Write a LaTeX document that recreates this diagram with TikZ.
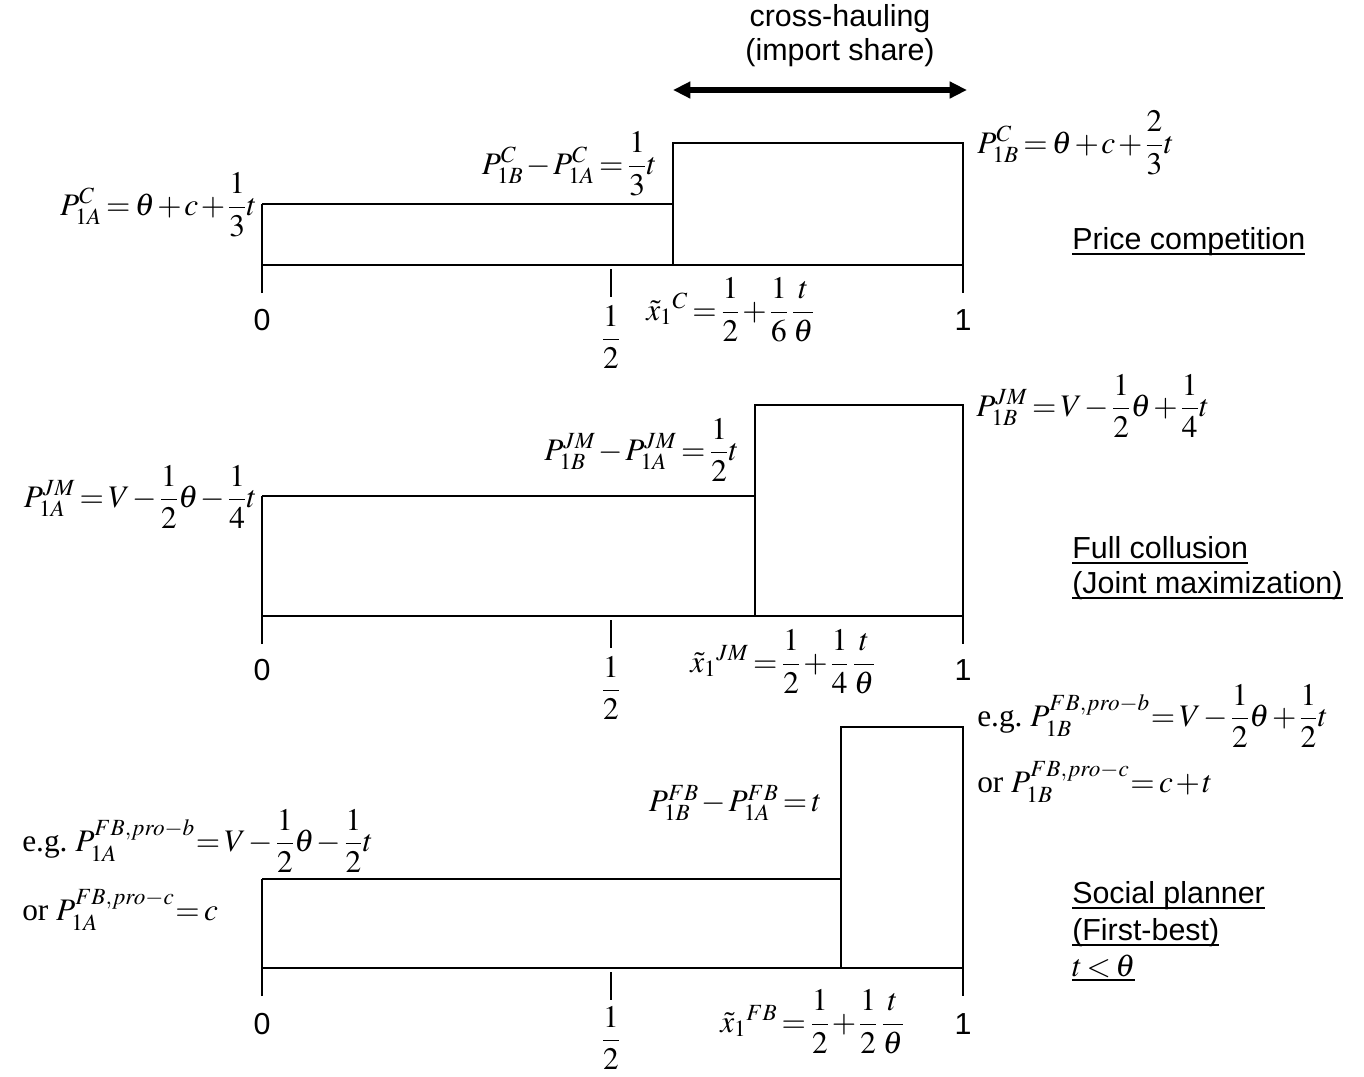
\documentclass[tikz,border=0pt]{standalone}
\usepackage{amsmath}
\usepackage{mathptmx}
\usepackage[no-math]{fontspec}
\setmainfont{Liberation Serif}
\setsansfont{Liberation Sans}
\usetikzlibrary{arrows.meta}
\newcommand\myul[1]{\setbox0\hbox{#1}\rlap{\rule[-0.17em]{\wd0}{0.065em}}\box0}
\medmuskip=1.5mu plus 1mu minus 1mu\relax
\thickmuskip=2.5mu plus 1mu\relax
\tikzset{
  ln/.style={line width=1.9pt},
  mt/.style={inner sep=0pt, font=\fontsize{23.5}{28}\selectfont},
  sf/.style={inner sep=0pt, font=\fontsize{22.8}{27}\selectfont\sffamily},
  bigarrow/.style={line width=4pt, {Triangle[length=13pt,width=12pt]}-{Triangle[length=13pt,width=12pt]}},
}
\begin{document}
\begin{tikzpicture}[x=0.75pt,y=-0.75pt]
\useasboundingbox (0,0) rectangle (1364,1076);

% ---------- header arrow ----------
\node[sf] (ch1) at (840,19) {cross-hauling};
\node[sf] (ch2) at (840,53) {(import share)};
\coordinate (al) at (673,90);
\coordinate (ar) at (967,90);
\draw[bigarrow] (al) -- (ar);

% ---------- panel 1: price competition ----------
\draw[ln] (262,204) -- (673,204);
\draw[ln] (262,293) -- (262,204);
\draw[ln] (673,265) -- (673,143) -- (963,143) -- (963,293);
\draw[ln] (262,265) -- (963,265);
\draw[ln] (611,269) -- (611,297);

\node[mt,anchor=east] (pa1) at (257,205) {$P^C_{1A}=\theta+c+\dfrac{1}{3}t$};
\node[mt,anchor=east] (pd1) at (657,164) {$P^C_{1B}-P^C_{1A}=\dfrac{1}{3}t$};
\node[mt,anchor=west] (pb1) at (977,143) {$P^C_{1B}=\theta+c+\dfrac{2}{3}t$};
\node[mt,anchor=west] (xt1) at (646,310) {$\tilde{x}_1{}^{C}=\dfrac12+\dfrac16\,\dfrac{t}{\theta}$};
\node[sf] (z1) at (262,320) {0};
\node[sf] (o1) at (963,320) {1};
\node[mt] (h1) at (611,337) {$\dfrac12$};
\node[sf,anchor=west] (lab1) at (1072,242) {\myul{Price competition}};

% ---------- panel 2: full collusion ----------
\draw[ln] (262,496) -- (755,496);
\draw[ln] (262,644) -- (262,496);
\draw[ln] (755,616) -- (755,405) -- (963,405) -- (963,644);
\draw[ln] (262,616) -- (963,616);
\draw[ln] (611,620) -- (611,648);

\node[mt,anchor=east] (pa2) at (257,497) {$P^{JM}_{1A}=V-\dfrac12\theta-\dfrac14 t$};
\node[mt,anchor=east] (pd2) at (739,450) {$P^{JM}_{1B}-P^{JM}_{1A}=\dfrac12 t$};
\node[mt,anchor=west] (pb2) at (976,406) {$P^{JM}_{1B}=V-\dfrac12\theta+\dfrac14 t$};
\node[mt,anchor=west] (xt2) at (690,662) {$\tilde{x}_1{}^{JM}=\dfrac12+\dfrac14\,\dfrac{t}{\theta}$};
\node[sf] (z2) at (262,670) {0};
\node[sf] (o2) at (963,670) {1};
\node[mt] (h2) at (611,688) {$\dfrac12$};
\node[sf,anchor=west] (lab2a) at (1072,550) {\myul{Full collusion}};
\node[sf,anchor=west] (lab2b) at (1072,586) {\myul{(Joint maximization)}};

% ---------- panel 3: social planner ----------
\draw[ln] (262,879) -- (841,879);
\draw[ln] (262,996) -- (262,879);
\draw[ln] (841,968) -- (841,727) -- (963,727) -- (963,996);
\draw[ln] (262,968) -- (963,968);
\draw[ln] (611,972) -- (611,1000);

\node[mt,anchor=west] (pa3) at (22,841) {e.g.\ $P^{FB,pro-b}_{1A}\!=V-\dfrac12\theta-\dfrac12 t$};
\node[mt,anchor=west] (pc3) at (22,910) {or $P^{FB,pro-c}_{1A}\!=c$};
\node[mt,anchor=east] (pd3) at (822,803) {$P^{FB}_{1B}-P^{FB}_{1A}=t$};
\node[mt,anchor=west] (pb3) at (977,716) {e.g.\ $P^{FB,pro-b}_{1B}\!=V-\dfrac12\theta+\dfrac12 t$};
\node[mt,anchor=west] (pe3) at (977,782) {or $P^{FB,pro-c}_{1B}\!=c+t$};
\node[mt,anchor=west] (xt3) at (720,1022) {$\tilde{x}_1{}^{FB}=\dfrac12+\dfrac12\,\dfrac{t}{\theta}$};
\node[sf] (z3) at (262,1024) {0};
\node[sf] (o3) at (963,1024) {1};
\node[mt] (h3) at (611,1038) {$\dfrac12$};
\node[sf,anchor=west] (lab3a) at (1072,896) {\myul{Social planner}};
\node[sf,anchor=west] (lab3b) at (1072,933) {\myul{(First-best)}};
\node[mt,anchor=west] (lab3c) at (1072,968) {\myul{$t<\theta$}};
\end{tikzpicture}
\end{document}
